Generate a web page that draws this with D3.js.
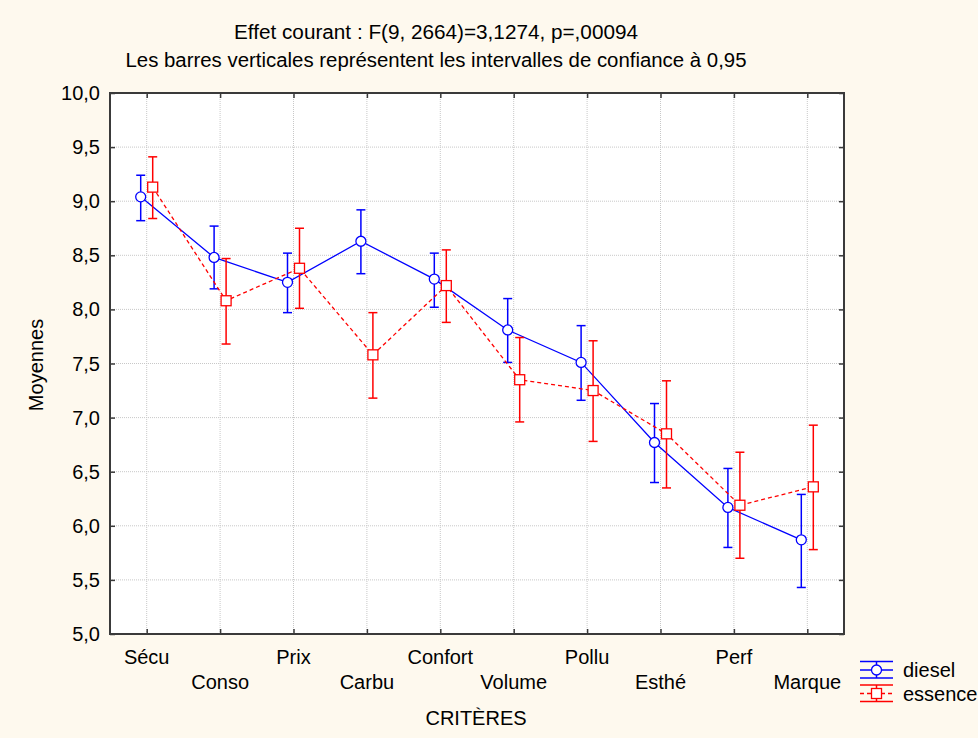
<!DOCTYPE html>
<html lang="fr">
<head>
    <meta charset="UTF-8">
    <title>Moyennes par critère</title>
    <script src="https://d3js.org/d3.v7.min.js"></script>
    <style>
        body { margin: 0; background: #fef9ee; }
        svg { display: block; font-family: "Liberation Sans", Arial, sans-serif; }
        .grid line { stroke: #c8c8c8; stroke-dasharray: 1,1; }
    </style>
</head>
<body>
    <svg id="chart"></svg>
    <script>
        // Data
        const categories = ["Sécu", "Conso", "Prix", "Carbu", "Confort", "Volume", "Pollu", "Esthé", "Perf", "Marque"];
        const dieselMean = [9.04, 8.48, 8.25, 8.63, 8.28, 7.81, 7.51, 6.77, 6.17, 5.87];
        const dieselLow  = [8.82, 8.19, 7.97, 8.33, 8.02, 7.51, 7.16, 6.40, 5.80, 5.43];
        const dieselHigh = [9.24, 8.77, 8.52, 8.92, 8.52, 8.10, 7.85, 7.13, 6.53, 6.29];
        const essenceMean = [9.13, 8.08, 8.38, 7.58, 8.22, 7.35, 7.25, 6.85, 6.19, 6.36];
        const essenceLow  = [8.84, 7.68, 8.01, 7.18, 7.88, 6.96, 6.78, 6.35, 5.70, 5.78];
        const essenceHigh = [9.41, 8.47, 8.75, 7.97, 8.55, 7.74, 7.71, 7.34, 6.68, 6.93];
        const yTicks = [5.0, 5.5, 6.0, 6.5, 7.0, 7.5, 8.0, 8.5, 9.0, 9.5, 10.0];

        const width = 978, height = 738;
        const plotL = 110, plotR = 844, plotT = 93, plotB = 634;
        const fs = 20;

        const svg = d3.select("#chart").attr("width", width).attr("height", height);

        const x = d3.scalePoint().domain(categories).range([plotL, plotR]).padding(0.5);
        const y = d3.scaleLinear().domain([5, 10]).range([plotB, plotT]);
        const fmt = v => d3.format(".1f")(v).replace(".", ",");

        // plot background
        svg.append("rect").attr("x", plotL).attr("y", plotT)
            .attr("width", plotR - plotL).attr("height", plotB - plotT).attr("fill", "#fff");

        // grid lines
        const grid = svg.append("g").attr("class", "grid");
        grid.selectAll(".gy").data(yTicks.slice(1, -1)).enter().append("line")
            .attr("x1", plotL).attr("x2", plotR)
            .attr("y1", d => y(d)).attr("y2", d => y(d));
        grid.selectAll(".gx").data(categories).enter().append("line")
            .attr("x1", d => x(d)).attr("x2", d => x(d))
            .attr("y1", plotT).attr("y2", plotB);

        // axes (ticks pointing inward)
        const axisColor = "#3a3a3a";
        const yAxis = svg.append("g").attr("transform", `translate(${plotL},0)`)
            .call(d3.axisRight(y).tickValues(yTicks).tickSize(5).tickFormat(""));
        const yAxisR = svg.append("g").attr("transform", `translate(${plotR},0)`)
            .call(d3.axisLeft(y).tickValues(yTicks).tickSize(5).tickFormat(""));
        const xAxis = svg.append("g").attr("transform", `translate(0,${plotB})`)
            .call(d3.axisTop(x).tickSize(5).tickFormat(""));
        const xAxisT = svg.append("g").attr("transform", `translate(0,${plotT})`)
            .call(d3.axisBottom(x).tickSize(5).tickFormat(""));
        [yAxis, yAxisR, xAxis, xAxisT].forEach(g => {
            g.select(".domain").remove();
            g.selectAll("line").attr("stroke", axisColor).attr("stroke-width", 1.5);
        });
        svg.append("rect").attr("x", plotL).attr("y", plotT)
            .attr("width", plotR - plotL).attr("height", plotB - plotT)
            .attr("fill", "none").attr("stroke", axisColor).attr("stroke-width", 2);

        // y tick labels
        svg.append("g").selectAll("text").data(yTicks).enter().append("text")
            .attr("x", plotL - 10).attr("y", d => y(d)).attr("dy", "0.35em")
            .attr("text-anchor", "end").attr("font-size", fs).text(fmt);

        // x tick labels, staggered
        svg.append("g").selectAll("text").data(categories).enter().append("text")
            .attr("x", d => x(d)).attr("y", (d, i) => i % 2 === 0 ? 664 : 689)
            .attr("text-anchor", "middle").attr("font-size", fs).text(d => d);

        // titles
        svg.append("text").attr("x", 436).attr("y", 39).attr("text-anchor", "middle")
            .attr("font-size", fs).attr("textLength", 404).attr("lengthAdjust", "spacingAndGlyphs")
            .text("Effet courant : F(9, 2664)=3,1274, p=,00094");
        svg.append("text").attr("x", 436).attr("y", 67).attr("text-anchor", "middle")
            .attr("font-size", fs).attr("textLength", 621).attr("lengthAdjust", "spacingAndGlyphs")
            .text("Les barres verticales représentent les intervalles de confiance à 0,95");
        svg.append("text").attr("x", 476).attr("y", 725).attr("text-anchor", "middle")
            .attr("font-size", fs).text("CRITÈRES");
        svg.append("text").attr("transform", "translate(43,365) rotate(-90)")
            .attr("text-anchor", "middle").attr("font-size", fs).text("Moyennes");

        // series
        const series = [
            { name: "diesel", mean: dieselMean, low: dieselLow, high: dieselHigh, color: "#0000ff", dx: -6, dash: null, shape: "circle" },
            { name: "essence", mean: essenceMean, low: essenceLow, high: essenceHigh, color: "#ff0000", dx: 6, dash: "4,3", shape: "square" }
        ];

        series.forEach(s => {
            const pts = categories.map((c, i) => ({ x: x(c) + s.dx, m: s.mean[i], lo: s.low[i], hi: s.high[i] }));
            const g = svg.append("g");
            g.append("path").datum(pts)
                .attr("d", d3.line().x(d => d.x).y(d => y(d.m)))
                .attr("fill", "none").attr("stroke", s.color).attr("stroke-width", 1.3)
                .attr("stroke-dasharray", s.dash);
            g.selectAll(".bar").data(pts).enter().append("line")
                .attr("x1", d => d.x).attr("x2", d => d.x)
                .attr("y1", d => y(d.lo)).attr("y2", d => y(d.hi))
                .attr("stroke", s.color).attr("stroke-width", 1.5);
            ["lo", "hi"].forEach(k => {
                g.selectAll(".cap" + k).data(pts).enter().append("line")
                    .attr("x1", d => d.x - 4.5).attr("x2", d => d.x + 4.5)
                    .attr("y1", d => y(d[k])).attr("y2", d => y(d[k]))
                    .attr("stroke", s.color).attr("stroke-width", 1.5);
            });
            if (s.shape === "circle") {
                g.selectAll(".m").data(pts).enter().append("circle")
                    .attr("cx", d => d.x).attr("cy", d => y(d.m)).attr("r", 5)
                    .attr("fill", "#fff").attr("stroke", s.color).attr("stroke-width", 1.3);
            } else {
                g.selectAll(".m").data(pts).enter().append("rect")
                    .attr("x", d => d.x - 5).attr("y", d => y(d.m) - 5)
                    .attr("width", 10).attr("height", 10)
                    .attr("fill", "#fff").attr("stroke", s.color).attr("stroke-width", 1.3);
            }
        });

        // legend
        const legend = svg.append("g");
        series.forEach((s, i) => {
            const cy = 670 + i * 23.5;
            const lg = legend.append("g").attr("transform", `translate(0,${cy})`);
            lg.append("line").attr("x1", 860).attr("x2", 893).attr("y1", -8.5).attr("y2", -8.5)
                .attr("stroke", s.color).attr("stroke-width", 1.5);
            lg.append("line").attr("x1", 860).attr("x2", 893).attr("y1", 8).attr("y2", 8)
                .attr("stroke", s.color).attr("stroke-width", 1.5);
            lg.append("line").attr("x1", 860).attr("x2", 893).attr("y1", 0).attr("y2", 0)
                .attr("stroke", s.color).attr("stroke-width", 1.3).attr("stroke-dasharray", s.dash);
            lg.append("line").attr("x1", 876.5).attr("x2", 876.5).attr("y1", -8.5).attr("y2", 8)
                .attr("stroke", s.color).attr("stroke-width", 1.5);
            if (s.shape === "circle") {
                lg.append("circle").attr("cx", 876.5).attr("cy", 0).attr("r", 5)
                    .attr("fill", "#fff").attr("stroke", s.color).attr("stroke-width", 1.3);
            } else {
                lg.append("rect").attr("x", 871.5).attr("y", -5).attr("width", 10).attr("height", 10)
                    .attr("fill", "#fff").attr("stroke", s.color).attr("stroke-width", 1.3);
            }
            lg.append("text").attr("x", 903).attr("y", 0).attr("dy", "0.35em")
                .attr("font-size", fs).text(s.name);
        });
    </script>
</body>
</html>
